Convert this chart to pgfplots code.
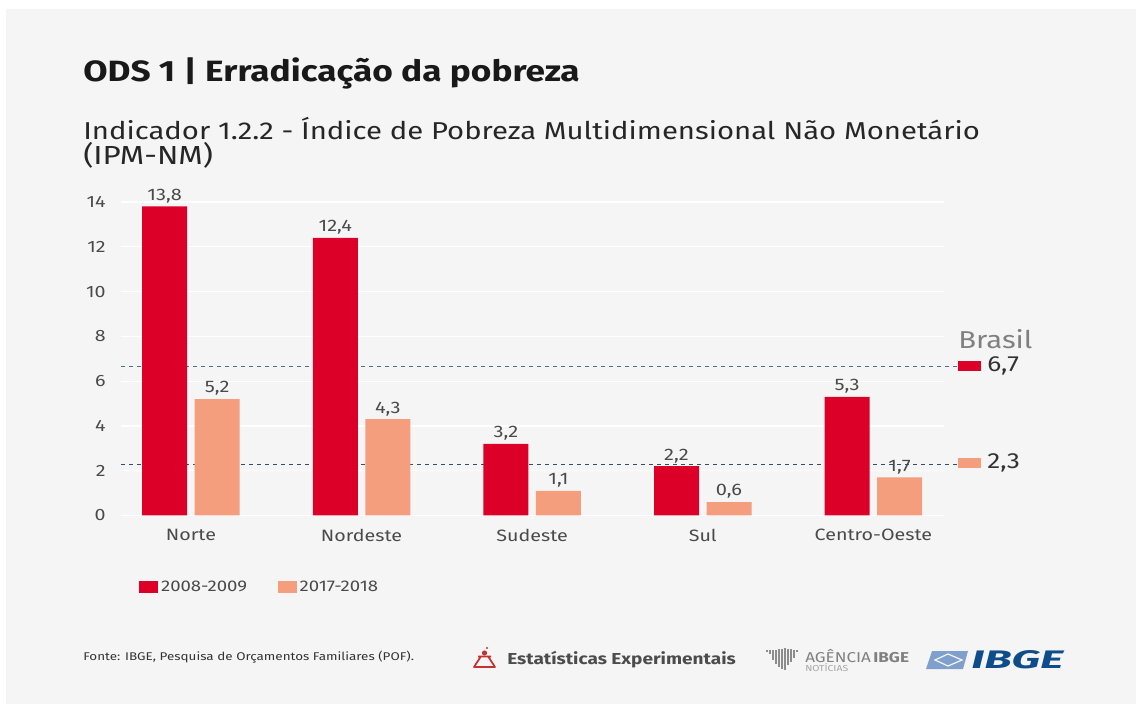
\documentclass[border=0pt]{standalone}
\usepackage{pgfplots}
\pgfplotsset{compat=1.18}
\usepackage{graphicx}
\usepackage{fontspec}
\setmainfont{Fira Sans}[FakeStretch=1.2]
\definecolor{bg}{HTML}{F5F5F5}
\definecolor{red1}{HTML}{DC0028}
\definecolor{sal}{HTML}{F49E7E}
\definecolor{txt}{HTML}{4A4A4A}
\definecolor{dashc}{HTML}{4F6F8C}
\definecolor{ibgeb}{HTML}{0F4C8A}
\definecolor{ibgel}{HTML}{7F9FCC}
\pgfplotstableread{
x a b
0 13.8 5.2
1 12.4 4.3
2 3.2 1.1
3 2.2 0.6
4 5.3 1.7
}\ods
\begin{document}
\begin{tikzpicture}
\path[use as bounding box] (0,0) rectangle (852pt,528pt);
\fill[white] (0,0) rectangle (852pt,528pt);
\fill[bg] (4.5pt,0pt) rectangle (852pt,521.2pt);
\begin{axis}[
  at={(90.75pt,141.4pt)},anchor=south west,
  scale only axis,width=617.25pt,height=235.1pt,
  xmin=-0.41,xmax=4.414,ymin=0,ymax=14,
  clip=false,
  axis line style={draw=none},
  tick style={draw=none},
  ymajorgrids,grid style={white,line width=0.9pt},
  ytick={0,2,...,14},
  xtick={0,1,2,3,4},
  xticklabels={Norte,Nordeste,Sudeste,Sul,Centro-Oeste},
  /pgf/number format/assume math mode=true,
  /pgf/number format/use comma,
  tick label style={font=\fontsize{12.3}{14}\selectfont,text=txt},
  xticklabel style={yshift=-6.5pt},
  yticklabel style={xshift=-8pt},
  nodes near coords style={font=\fontsize{12.5}{14}\selectfont,text=txt,
     /pgf/number format/fixed,/pgf/number format/fixed zerofill,/pgf/number format/precision=1,/pgf/number format/use comma,yshift=-1pt},
  legend style={at={(axis cs:-0.329,-3.2)},anchor=west,legend columns=2,draw=none,fill=none,
     font=\fontsize{11.6}{13}\selectfont,text=txt,
     /tikz/every even column/.style={column sep=21pt}},
  legend image code/.code={\fill[#1] (0pt,-4.5pt) rectangle (14.5pt,4.5pt);},
]
\addplot[forget plot,dashc,dashed,line width=0.7pt] coordinates {(-0.41,6.66) (4.49,6.66)};
\addplot[forget plot,dashc!70!black,dashed,line width=0.7pt] coordinates {(-0.41,2.3) (4.49,2.3)};
\addplot[ybar,bar width=33.75pt,bar shift=-19.7pt,fill=red1,draw=none,nodes near coords,
  every node near coord/.append style={xshift=-19.7pt}] table[x=x,y=a]{\ods};
\addplot[ybar,bar width=33.75pt,bar shift=19.7pt,fill=sal,draw=none,nodes near coords,
  every node near coord/.append style={xshift=19.7pt}] table[x=x,y=b]{\ods};
\legend{2008-2009,2017-2018}
\end{axis}
\begin{scope}[x=0.75pt,y=-0.75pt,shift={(0pt,528pt)}]
\node[anchor=west,inner sep=0,font=\fontsize{22}{25}\bfseries\selectfont,text=black!90] at (83,73) {ODS 1 | Erradicação da pobreza};
\node[anchor=west,inner sep=0,font=\fontsize{18.3}{21}\selectfont,text=black!85] at (83,129) {Indicador 1.2.2 - Índice de Pobreza Multidimensional Não Monetário};
\node[anchor=west,inner sep=0,font=\fontsize{19.6}{21}\selectfont,text=black!85] at (83,155.5) {(IPM-NM)};
\node[anchor=west,inner sep=0,font=\fontsize{18.3}{20}\selectfont,text=black!50] at (958,339) {Brasil};
\fill[red1] (958,361) rectangle (981,371);
\fill[sal] (958,458) rectangle (981,468);
\node[anchor=west,inner sep=0,font=\fontsize{16.4}{20}\selectfont,text=black!80] at (987,366) {6,7};
\node[anchor=west,inner sep=0,font=\fontsize{16.4}{20}\selectfont,text=black!80] at (987,463) {2,3};
\node[anchor=west,inner sep=0,font=\fontsize{8.4}{10}\selectfont,text=black!80] at (83,657) {Fonte: IBGE, Pesquisa de Orçamentos Familiares (POF).};
\draw[red!70!black!80,line width=1.3pt,line join=round] (478,656.5) -- (491,656.5) (480.5,657)--(474,667)--(495,667)--(488.5,657);
\fill[red!70!black!80] (484.5,653) circle (2.6);
\fill[red!70!black!80] (487,648) circle (1.1);
\node[anchor=west,inner sep=0,font=\fontsize{11.9}{13}\bfseries\selectfont,text=black!70] at (507,660) {Estatísticas Experimentais};
\foreach \x/\h/\d in {767/2/0,770/4/0,773/10/0,776/14/1,779/18/4,782/20/6,785/22/8,788/16/5,791/13/3,794/8/1,797/2/0}
  \draw[black!45,line width=1.6pt] (\x,650) ++(0,-\d/4) -- ++(0,\h);
\node[anchor=west,inner sep=0,font=\fontsize{10.7}{12}\selectfont,text=black!50] at (805,656) {AGÊNCIA\,\textbf{IBGE}};
\node[anchor=west,inner sep=0,font=\fontsize{6.5}{8}\selectfont,text=black!35] at (805,668) {NOTÍCIAS};
\fill[ibgel] (932,651) -- (968,651) -- (963,669) -- (926,669) -- cycle;
\draw[bg,line width=0.9pt] (935,660) -- (948,654) -- (962,660) -- (948,666) -- cycle;
\node[anchor=west,inner sep=0,font=\fontsize{19}{21}\bfseries\itshape\selectfont,text=ibgeb] at (971,660) {\scalebox{1.48}[1]{IBGE}};
\end{scope}
\end{tikzpicture}
\end{document}
